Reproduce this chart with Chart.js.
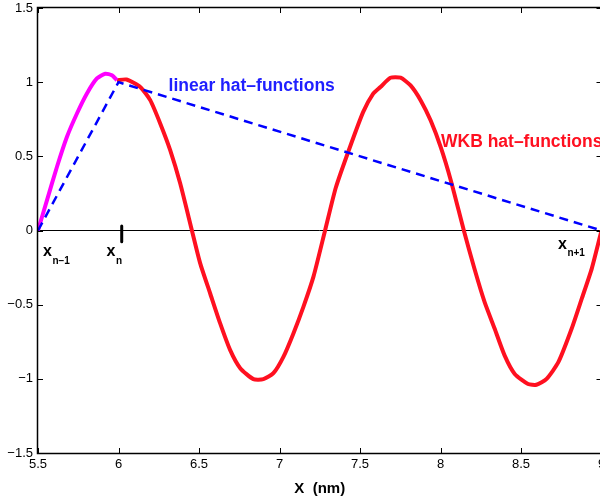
<!DOCTYPE html>
<html>
<head>
<meta charset="utf-8">
<title>WKB hat-functions</title>
<script src="https://cdn.jsdelivr.net/npm/chart.js@4.4.1/dist/chart.umd.min.js"></script>
<style>
  html, body { margin: 0; padding: 0; background: #fff; overflow: hidden; }
  #wrap { position: absolute; left: 0; top: 0; width: 612px; height: 500px; }
</style>
</head>
<body>
<div id="wrap"><canvas id="hatChart" width="612" height="500"></canvas></div>
<script>
// tick values
var xTicks = [5.5, 6, 6.5, 7, 7.5, 8, 8.5, 9];
var yTicks = [-1.5, -1, -0.5, 0, 0.5, 1, 1.5];

// left piece of the WKB hat (magenta)
var leftX = [5.5, 5.556, 5.618, 5.68, 5.742, 5.804, 5.866, 5.918, 5.959, 5.99];
var leftY = [0, 0.205, 0.43, 0.632, 0.789, 0.924, 1.025, 1.057, 1.047, 1.013];

// right piece of the WKB hat (red)
var wkbX = [5.99, 6.05, 6.135, 6.197, 6.259, 6.321, 6.383, 6.456, 6.507, 6.569,
            6.631, 6.693, 6.756, 6.838, 6.9, 6.962, 7.025, 7.087, 7.149, 7.211,
            7.283, 7.35, 7.44, 7.52, 7.58, 7.627, 7.689, 7.752, 7.814, 7.877,
            7.939, 8.002, 8.065, 8.145, 8.21, 8.273, 8.336, 8.398, 8.461, 8.544,
            8.596, 8.659, 8.732, 8.815, 8.878, 8.94, 9.0];
var wkbY = [1.013, 1.018, 0.968, 0.879, 0.722, 0.542, 0.318, 0, -0.22, -0.423,
            -0.625, -0.805, -0.928, -1.002, -1.002, -0.962, -0.85, -0.692, -0.513, -0.311,
            0, 0.29, 0.57, 0.8, 0.92, 0.967, 1.03, 1.03, 0.978, 0.877,
            0.741, 0.56, 0.334, 0, -0.255, -0.48, -0.661, -0.842, -0.967, -1.035,
            -1.04, -1.0, -0.888, -0.661, -0.458, -0.255, 0];

// linear hat (blue dashed)
var linearX = [5.5, 6, 9];
var linearY = [0, 1, 0];

// node marker at x_n and the zero line
var markX = [6.02, 6.02];
var markY = [0.03, -0.075];
var zeroX = [5.5, 9];
var zeroY = [0, 0];

// node names
var nodeX = [5.5, 6, 9];
var nodeSub = ["n\u22121", "n", "n+1"];

var FONT = "'Liberation Sans', Arial, Helvetica, sans-serif";

function toPoints(xs, ys) {
  return xs.map(function (x, i) {
    return { x: x, y: ys[i] };
  });
}

function line(data, color, width, order) {
  return {
    data: data,
    showLine: true,
    fill: false,
    tension: 0,
    pointRadius: 0,
    pointHoverRadius: 0,
    borderColor: color,
    borderWidth: width,
    borderJoinStyle: "round",
    order: order,
  };
}

// box with inward ticks, plus the text labels
var framePlugin = {
  id: "frame",
  afterDatasetsDraw: function (chart) {
    var ctx = chart.ctx;
    var xs = chart.scales.x;
    var ys = chart.scales.y;
    ctx.save();
    ctx.textBaseline = "alphabetic";
    ctx.textAlign = "left";

    ctx.font = "bold 17.5px " + FONT;
    ctx.fillStyle = "#1f1fff";
    ctx.fillText("linear hat\u2013functions", xs.getPixelForValue(6.311), ys.getPixelForValue(0.941));
    ctx.fillStyle = "#ff1020";
    ctx.fillText("WKB hat\u2013functions", xs.getPixelForValue(8.003), ys.getPixelForValue(0.564));

    // x_{n-1}, x_n, x_{n+1}
    var offX = [5, -12, -43.5];
    var offY = [25.5, 25.5, 18];
    var y0 = ys.getPixelForValue(0);
    ctx.fillStyle = "#000";
    nodeX.forEach(function (v, i) {
      var px = xs.getPixelForValue(v) + offX[i];
      var py = y0 + offY[i];
      ctx.font = "bold 16px " + FONT;
      ctx.fillText("x", px, py);
      var w = ctx.measureText("x").width;
      ctx.font = "bold 10px " + FONT;
      ctx.fillText(nodeSub[i], px + w + 0.5, py + 7.5);
    });
    ctx.restore();
  },
  afterDraw: function (chart) {
    var ctx = chart.ctx;
    var a = chart.chartArea;
    var xs = chart.scales.x;
    var ys = chart.scales.y;
    ctx.save();
    ctx.strokeStyle = "#000";
    ctx.lineWidth = 1.5;
    ctx.strokeRect(a.left - 0.5, a.top - 0.5, a.right - a.left + 1, a.bottom - a.top + 1);
    ctx.lineWidth = 1;
    ctx.beginPath();
    xTicks.forEach(function (v) {
      var px = Math.round(xs.getPixelForValue(v)) + 0.5;
      ctx.moveTo(px, a.bottom);
      ctx.lineTo(px, a.bottom - 5);
      ctx.moveTo(px, a.top);
      ctx.lineTo(px, a.top + 5);
    });
    yTicks.forEach(function (v) {
      var py = Math.round(ys.getPixelForValue(v)) + 0.5;
      ctx.moveTo(a.left, py);
      ctx.lineTo(a.left + 5, py);
      ctx.moveTo(a.right, py);
      ctx.lineTo(a.right - 5, py);
    });
    ctx.stroke();
    ctx.restore();
  },
};

window.addEventListener("DOMContentLoaded", function () {
  var ctx = document.getElementById("hatChart").getContext("2d");

  var linear = line(toPoints(linearX, linearY), "#0000ff", 2.5, 0);
  linear.borderDash = [9, 6];
  linear.borderCapStyle = "butt";

  var left = line(toPoints(leftX, leftY), "#ff00ff", 4, 1);
  left.tension = 0.2;
  var wkb = line(toPoints(wkbX, wkbY), "#ff1020", 4, 2);
  wkb.tension = 0.2;

  var hatChart = new Chart(ctx, {
    type: "scatter",
    data: {
      datasets: [
        linear,
        left,
        wkb,
        line(toPoints(markX, markY), "#000", 3, 3),
        line(toPoints(zeroX, zeroY), "#000", 1, 4),
      ],
    },
    options: {
      responsive: false,
      animation: false,
      devicePixelRatio: 1,
      layout: { padding: { left: 0, top: 8, right: 10.5, bottom: 0 } },
      plugins: {
        legend: { display: false },
        tooltip: { enabled: false },
      },
      scales: {
        x: {
          type: "linear",
          position: "bottom",
          min: 5.5,
          max: 9,
          afterBuildTicks: function (scale) {
            scale.ticks = xTicks.map(function (v) { return { value: v }; });
          },
          afterFit: function (scale) {
            scale.height = 47;
            scale.paddingLeft = 0;
            scale.paddingRight = 0;
          },
          grid: { display: false, drawTicks: false },
          border: { display: false },
          ticks: {
            color: "#000",
            font: { family: FONT, size: 13 },
            padding: 4,
            maxRotation: 0,
            autoSkip: false,
            callback: function (value) {
              return String(value);
            },
          },
          title: {
            display: true,
            text: "X  (nm)",
            color: "#000",
            font: { family: FONT, size: 15, weight: "bold" },
            padding: { top: 0, bottom: 2 },
          },
        },
        y: {
          type: "linear",
          min: -1.5,
          max: 1.5,
          afterBuildTicks: function (scale) {
            scale.ticks = yTicks.map(function (v) { return { value: v }; });
          },
          afterFit: function (scale) {
            scale.width = 38;
            scale.paddingTop = 0;
            scale.paddingBottom = 0;
          },
          grid: { display: false, drawTicks: false },
          border: { display: false },
          ticks: {
            color: "#000",
            font: { family: FONT, size: 13 },
            padding: 5,
            autoSkip: false,
            callback: function (value) {
              return String(value).replace("-", "\u2212");
            },
          },
        },
      },
    },
    plugins: [framePlugin],
  });
});
</script>
</body>
</html>
